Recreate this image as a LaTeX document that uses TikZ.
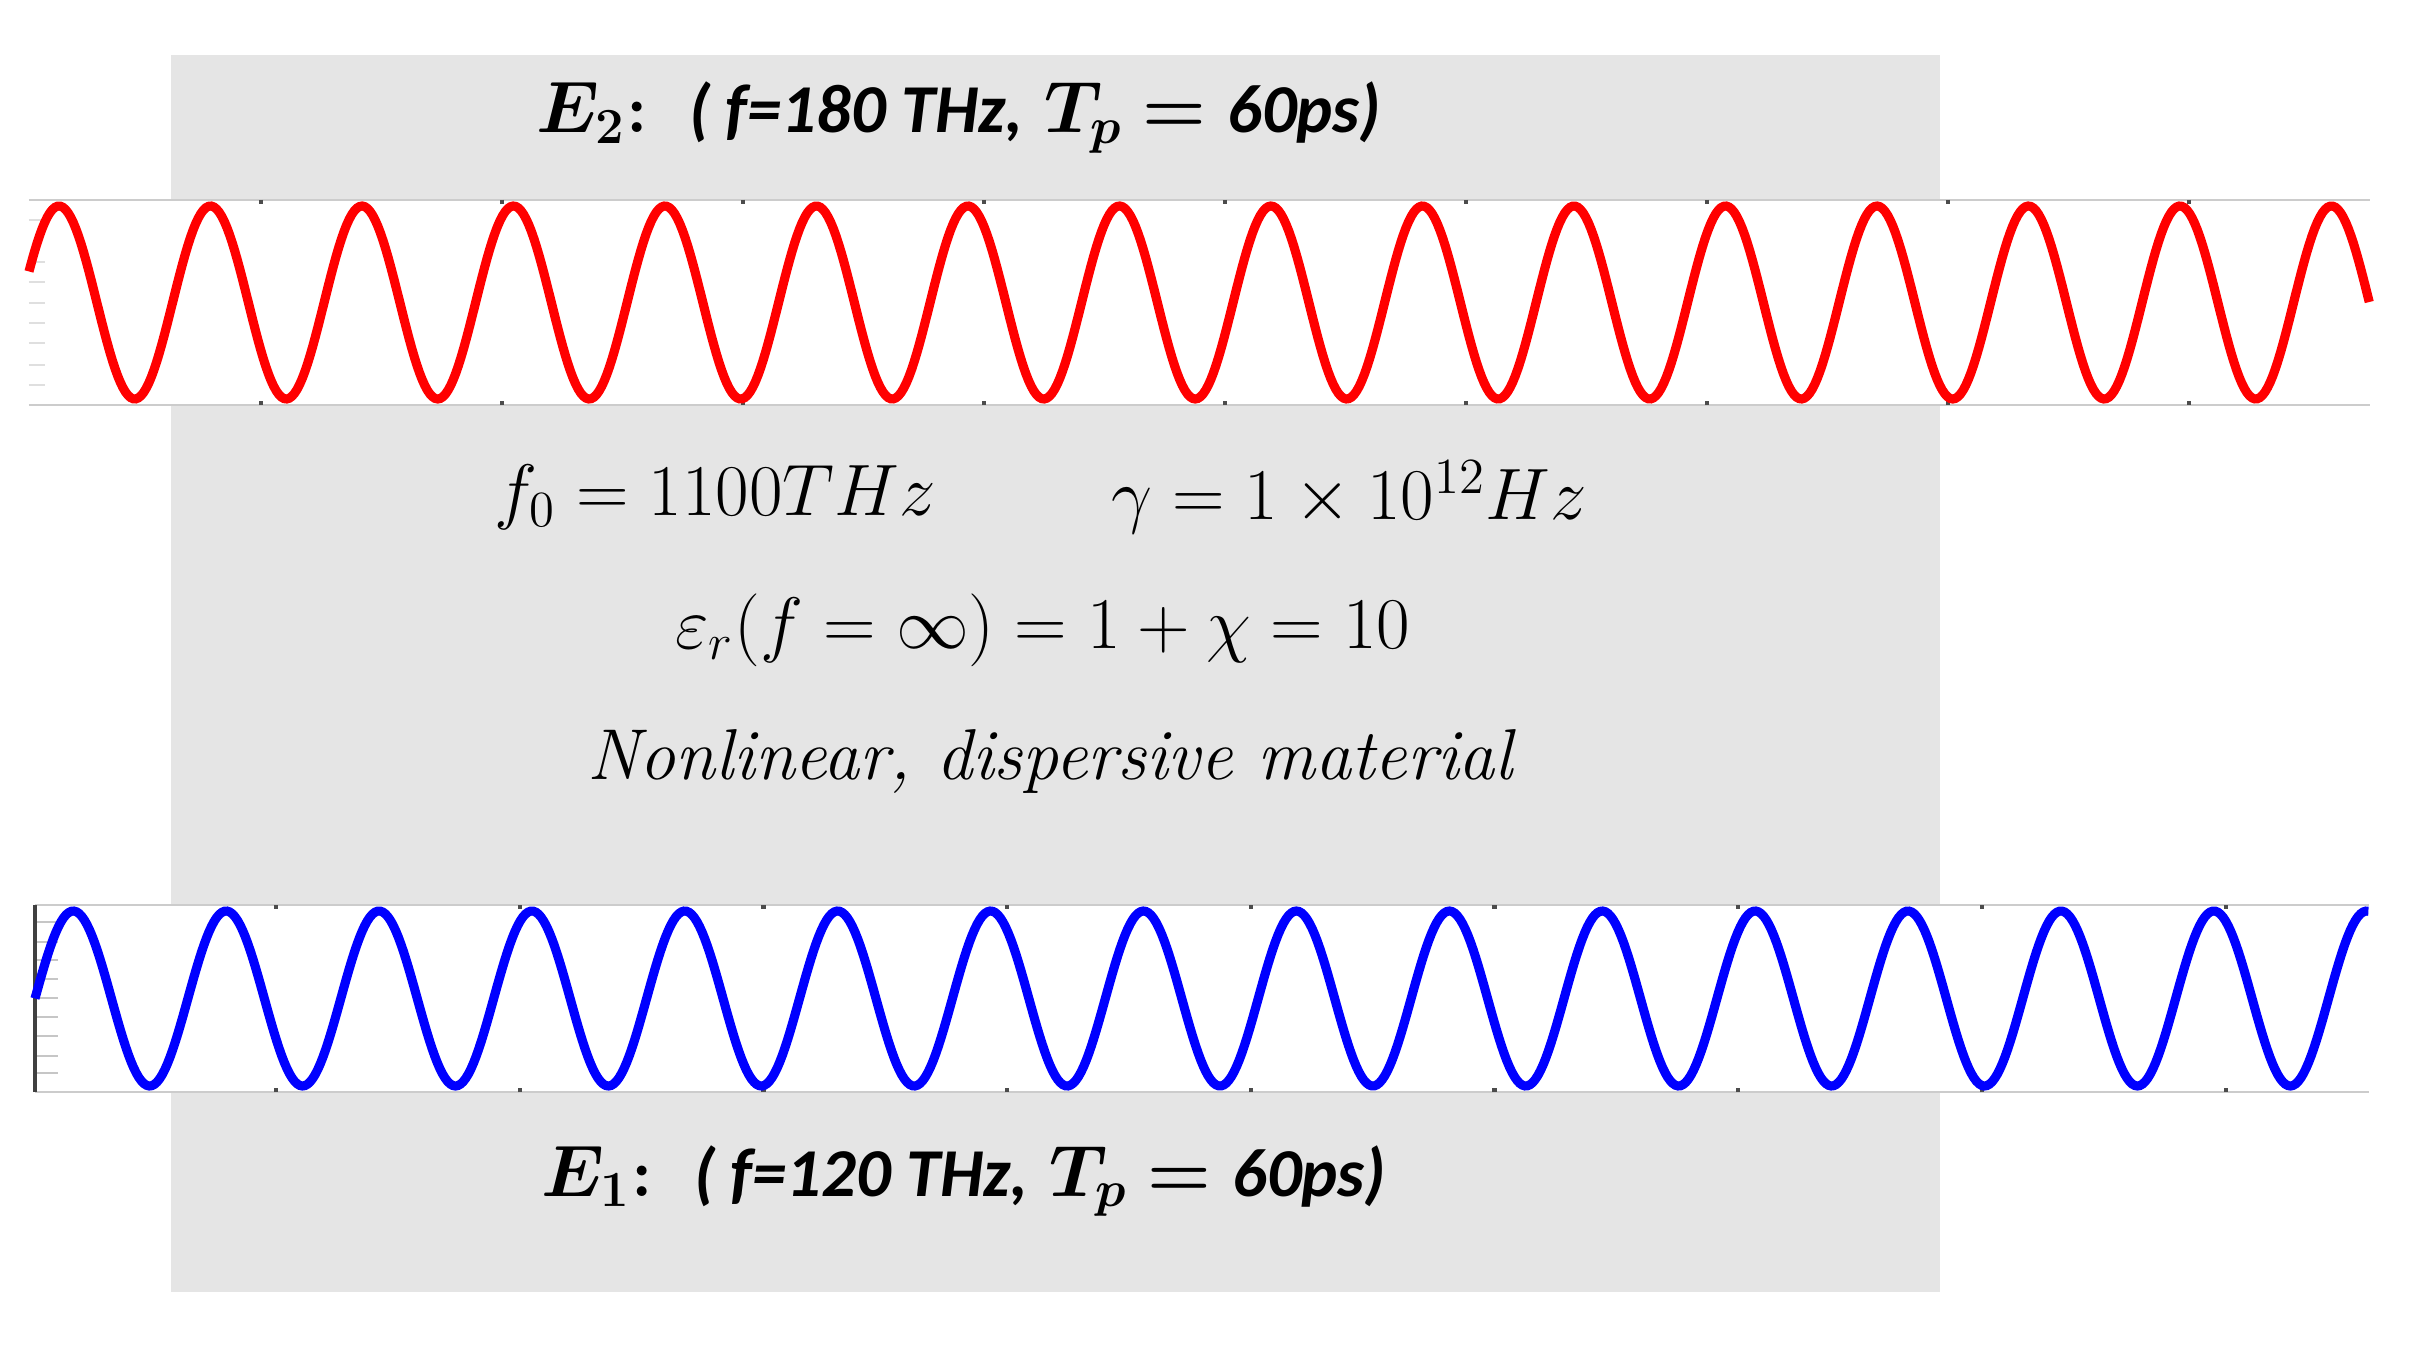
\documentclass[tikz,border=0pt]{standalone}
\usepackage{fontspec}
\usepackage{amsmath}
\usepackage{bm}
\newfontfamily\carlito{Carlito}
\usetikzlibrary{calc}

\tikzset{
  wavetext/.style={inner sep=0pt,font=\fontsize{19.5}{24}\selectfont},
  mattext/.style={inner sep=0pt,font=\fontsize{20.5}{24}\selectfont},
  bandline/.style={gray!40,line width=0.7pt},
  axtick/.style={black!70,line width=1.2pt}
}

\begin{document}
\begin{tikzpicture}[>=latex]

		\useasboundingbox (0,0) rectangle (24.11,13.70);

		% Material slab
		\fill[gray!20] (1.71,0.78) rectangle (19.40,13.15);

		% Plot bands (white strips with a frame line top and bottom)
		\fill[white] (0.29,9.65) rectangle (23.70,11.70);
		\fill[white] (0.35,2.78) rectangle (23.69,4.65);
		\draw[bandline] (0.29,9.65) -- (23.70,9.65) (0.29,11.70) -- (23.70,11.70);
		\draw[bandline] (0.35,2.78) -- (23.69,2.78) (0.35,4.65) -- (23.69,4.65);

		% Faint axis ticks on the left
		\foreach \y in {11.50,11.08,10.88,10.67,10.47,10.27,10.05,9.85}
			\draw[gray!25,line width=0.8pt] (0.29,\y) -- ++(0.16,0);
		\foreach \y in {4.48,4.28,4.10,3.91,3.72,3.53,3.34,3.14,2.97}
			\draw[gray!45,line width=0.8pt] (0.35,\y) -- ++(0.23,0);
		\draw[black!75,line width=1pt] (0.35,2.78) -- (0.35,4.65);

		% Small ticks on the frame lines
		\foreach \k in {0,...,8} {
			\draw[axtick] ($(2.61,11.70)+(2.41*\k,0)$) -- ++(0,-0.04);
			\draw[axtick] ($(2.61,9.65)+(2.41*\k,0)$) -- ++(0,0.04);
			\draw[axtick] ($(2.76,4.65)+(2.437*\k,0)$) -- ++(0,-0.04);
			\draw[axtick] ($(2.76,2.78)+(2.437*\k,0)$) -- ++(0,0.04);
		}

		% Waves E2 (red) and E1 (blue)
		\draw[red,line width=2.6pt]
		plot[domain=0.29:23.70,samples=900] (\x,{10.675+0.965*sin(360*(\x-0.211)/1.515)});
		\draw[blue,line width=2.6pt]
		plot[domain=0.35:23.69,samples=900] (\x,{3.715+0.875*sin(360*(\x-0.35)/1.529)});

		% Labels of the two waves
		\node[wavetext] (E2lab) at (9.59,12.52)
		{$\bm{E_2}$\textbf{:}\ \ {\carlito\bfseries\itshape ( f=180 THz,} $\bm{T_p=}$ {\carlito\bfseries\itshape 60ps)}};
		\node[wavetext] (E1lab) at (9.64,1.89)
		{$\bm{E_1}$\textbf{:}\ \ {\carlito\bfseries\itshape ( f=120 THz,} $\bm{T_p=}$ {\carlito\bfseries\itshape 60ps)}};

		% Material parameters
		\node[mattext] (resfreq) at (7.15,8.73) {$f_0 = 1100THz$};
		\node[mattext] (damping) at (13.49,8.73) {$\gamma = 1\times 10^{12}Hz$};
		\node[mattext] (permit) at (10.43,7.40) {$\varepsilon_r(f=\infty) = 1+\chi = 10$};
		\node[mattext] (material) at (10.52,6.09) {\textit{Nonlinear, dispersive material}};

	\end{tikzpicture}
\end{document}
